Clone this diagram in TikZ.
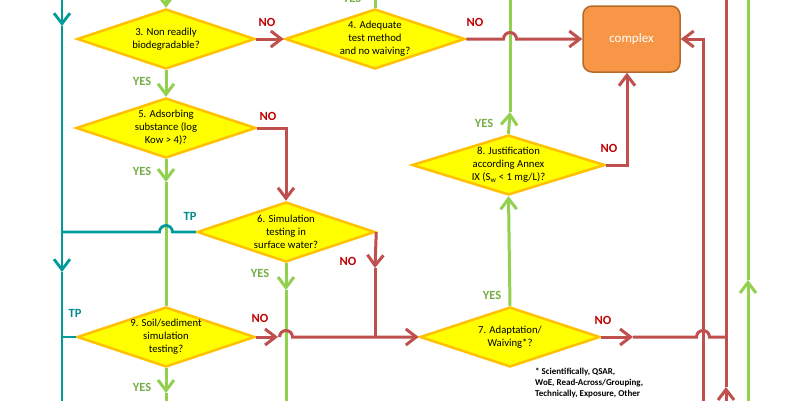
\documentclass[tikz,border=0pt]{standalone}
\usepackage{fontspec}
\setmainfont{Carlito}
\usetikzlibrary{shapes.geometric,arrows.meta,calc}
\definecolor{lred}{HTML}{C0504D}
\definecolor{nored}{HTML}{C00000}
\definecolor{lgreen}{HTML}{92D050}
\definecolor{yesgreen}{HTML}{77AD47}
\definecolor{lteal}{HTML}{009A9A}
\definecolor{tpteal}{HTML}{008B8F}
\definecolor{dfill}{HTML}{FFFF00}
\definecolor{dborder}{HTML}{FFC000}
\definecolor{cfill}{HTML}{F79646}
\definecolor{cborder}{HTML}{B46A2C}
\begin{document}
\begin{tikzpicture}[x=1pt,y=-1pt,
  dec/.style={diamond, draw=dborder, fill=dfill, line width=2.5pt, inner sep=0pt, minimum height=60pt},
  dtxt/.style={font=\fontsize{10.7}{13}\selectfont, align=center, inner sep=0pt},
  tip/.style={-{Straight Barb[length=10.5pt,width=16pt]}},
  redl/.style={draw=lred, line width=3pt},
  grnl/.style={draw=lgreen, line width=3pt},
  teall/.style={draw=lteal, line width=2.8pt},
  nolab/.style={text=nored, font=\bfseries\fontsize{12.5}{14}\selectfont, inner sep=0pt},
  yeslab/.style={text=yesgreen, font=\bfseries\fontsize{12.5}{14}\selectfont, inner sep=0pt},
  tplab/.style={text=tpteal, font=\bfseries\fontsize{12.5}{14}\selectfont, inner sep=0pt},
  boxc/.style={draw=cborder, fill=cfill, line width=1.5pt, rounded corners=9pt, minimum width=97pt, minimum height=66pt, text=white, font=\fontsize{13}{15}\selectfont},
  foot/.style={font=\bfseries\fontsize{9}{11}\selectfont, align=left, inner sep=0pt}
]
\useasboundingbox (0,0) rectangle (800,400);

% ---------- coordinates ----------
\coordinate (g3top) at (166,-10);
\coordinate (g4top) at (375,-10);
\coordinate (a5) at (166,182);
\coordinate (a9) at (166,393);
\coordinate (g9bot) at (166,410);
\coordinate (a6) at (286,290);
\coordinate (g6bot) at (286,410);
\coordinate (a8) at (510,112);
\coordinate (g8top) at (510,-10);
\coordinate (g748b) at (748,410);
\coordinate (a748) at (748,280);
\coordinate (g748t) at (748,-10);
\coordinate (ar6) at (375,268);
\coordinate (j1) at (375,337);
\coordinate (ar9) at (278,337);
\coordinate (h9) at (279.5,337);
\coordinate (ar7) at (633,337);
\coordinate (h7) at (696.5,337);
\coordinate (j2) at (726,337);
\coordinate (r726b) at (726,410);
\coordinate (a726) at (726,387);
\coordinate (r726t) at (726,-10);
\coordinate (r703b) at (703,410);
\coordinate (h4) at (503.5,39);
\coordinate (t62top) at (62,-10);
\coordinate (at1) at (62,26);
\coordinate (at2) at (62,272);
\coordinate (t62bot) at (62,410);
\coordinate (h6) at (172.5,232);
\coordinate (tj6) at (62,232);
\coordinate (tj9) at (62,337);

% ---------- nodes ----------
\node[dec, minimum width=178pt] (d3) at (166,39) {};
\node[dtxt] (t3) at (d3) {3. Non readily\\biodegradable?};
\node[dec, minimum width=180pt] (d4) at (375,39) {};
\node[dtxt] (t4) at (d4) {4. Adequate\\test method\\and no waiving?};
\node[dec, minimum width=180pt] (d5) at (166,128) {};
\node[dtxt] (t5) at (d5) {5. Adsorbing\\substance (log\\Kow > 4)?};
\node[dec, minimum width=178pt] (d6) at (286,232) {};
\node[dtxt] (t6) at (d6) {6. Simulation\\testing in\\surface water?};
\node[dec, minimum width=178pt] (d9) at (166,337) {};
\node[dtxt] (t9) at (d9) {9. Soil/sediment\\simulation\\testing?};
\node[dec, minimum width=180pt] (d7) at (510,337) {};
\node[dtxt] (t7) at (d7) {7. Adaptation/\\Waiving*?};
\node[dec, minimum width=193pt] (d8) at (508.5,165) {};
\node[dtxt] (t8) at (d8) {8. Justification\\according Annex\\IX (S\textsubscript{w} < 1 mg/L)?};
\node[boxc] (cx) at (631.5,39) {complex};
\coordinate (cxs) at ($(cx.south)+(-4.5,0)$);

% ---------- green connectors ----------
\draw[grnl,tip] (g3top) -- (d3.north);
\draw[grnl] (g4top) -- (d4.north);
\draw[grnl,tip] (d3.south) -- (d5.north);
\draw[grnl,tip] (d5.south) -- (a5);
\draw[grnl] (a5) -- (d9.north);
\draw[grnl,tip] (d9.south) -- (a9);
\draw[grnl] (a9) -- (g9bot);
\draw[grnl,tip] (d6.south) -- (a6);
\draw[grnl] (a6) -- (g6bot);
\draw[grnl,tip] (d7.north) -- (d8.south);
\draw[grnl,tip] (d8.north) -- (a8);
\draw[grnl] (a8) -- (g8top);
\draw[grnl,tip] (g748b) -- (a748);
\draw[grnl] (a748) -- (g748t);

% ---------- red connectors ----------
\draw[redl,tip] (d3.east) -- (d4.west);
\draw[redl,tip] (d4.east) -- (h4) arc[start angle=180,end angle=0,radius=6.5pt] -- (cx.west);
\draw[redl,tip] (d5.east) -| (d6.north);
\draw[redl,tip] (d6.east) -- (ar6);
\draw[redl] (ar6) -- (j1);
\draw[redl,tip] (d9.east) -- (ar9);
\draw[redl,tip] (h9) arc[start angle=180,end angle=0,radius=6.5pt] -- (d7.west);
\draw[redl,tip] (d7.east) -- (ar7);
\draw[redl] (ar7) -- (h7) arc[start angle=180,end angle=0,radius=6.5pt] -- (j2);
\draw[redl,tip] (r726b) -- (a726);
\draw[redl] (a726) -- (r726t);
\draw[redl,tip] (r703b) |- (cx.east);
\draw[redl,tip] (d8.east) -| (cxs);

% ---------- teal connectors ----------
\draw[teall,tip] (t62top) -- (at1);
\draw[teall,tip] (at1) -- (at2);
\draw[teall] (at2) -- (t62bot);
\draw[teall] (d6.west) -- (h6) arc[start angle=0,end angle=180,radius=6.5pt] -- (tj6);
\draw[teall] (d9.west) -- (tj9);

% ---------- labels ----------
\node[nolab] (n1) at (267,22) {NO};
\node[nolab] (n2) at (475,22) {NO};
\node[nolab] (n3) at (268,116) {NO};
\node[nolab] (n4) at (348,261) {NO};
\node[nolab] (n5) at (260,318) {NO};
\node[nolab] (n6) at (603,320) {NO};
\node[nolab] (n7) at (609,148) {NO};
\node[yeslab] (y1) at (142,81) {YES};
\node[yeslab] (y2) at (142,171) {YES};
\node[yeslab] (y3) at (142,387) {YES};
\node[yeslab] (y4) at (260,273) {YES};
\node[yeslab] (y5) at (492,295) {YES};
\node[yeslab] (y6) at (484,123) {YES};
\node[yeslab, anchor=base] (y7) at (352,2) {YES};
\node[tplab] (tp1) at (190,216) {TP};
\node[tplab] (tp2) at (75,313) {TP};
\node[foot, anchor=north west] (fn) at (535,368) {* Scientifically, QSAR,\\WoE, Read-Across/Grouping,\\Technically, Exposure, Other};
\end{tikzpicture}
\end{document}
